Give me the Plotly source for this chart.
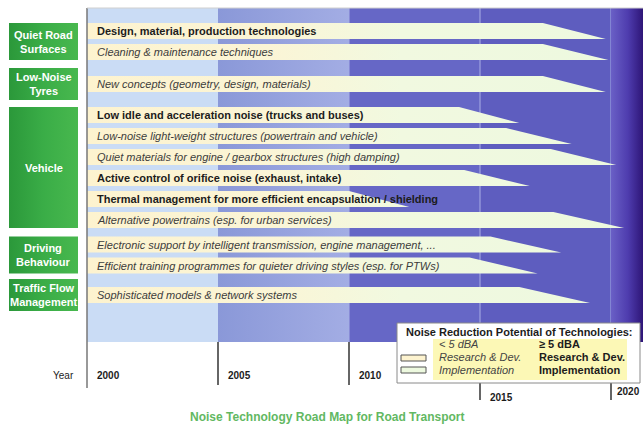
import plotly.graph_objects as go

# groups shown in the green boxes on the left
groups = ['Quiet Road<br>Surfaces', 'Low-Noise<br>Tyres', 'Vehicle',
          'Driving<br>Behaviour', 'Traffic Flow<br>Management']

techs = [
    'Design, material, production technologies',
    'Cleaning & maintenance techniques',
    'New concepts (geometry, design, materials)',
    'Low idle and acceleration noise (trucks and buses)',
    'Low-noise light-weight structures (powertrain and vehicle)',
    'Quiet materials for engine / gearbox structures (high damping)',
    'Active control of orifice noise (exhaust, intake)',
    'Thermal management for more efficient encapsulation / shielding',
    'Alternative powertrains (esp. for urban services)',
    'Electronic support by intelligent transmission, engine management, ...',
    'Efficient training programmes for quieter driving styles (esp. for PTWs)',
    'Sophisticated models & network systems',
]
tech_group = [0, 0, 1, 2, 2, 2, 2, 2, 2, 3, 3, 4]
# True = noise reduction >= 5 dBA (bold), False = < 5 dBA (italic)
big_reduction = [True, False, False, True, False, False, True, True, False, False, False, False]

start_year = [2000] * 12
flat_end = [2017.4, 2017.4, 2017.4, 2014.2, 2016.0, 2017.7,
            2014.4, 2010.0, 2017.8, 2015.4, 2014.6, 2016.5]
tip_year = [2019.8, 2019.9, 2019.8, 2016.5, 2018.5, 2020.2,
            2016.9, 2012.3, 2020.5, 2018.1, 2017.2, 2019.2]

years = [2000, 2005, 2010, 2015, 2020]

# layout in pixels (y runs top->bottom)
W, H = 643, 426
X0, PX_YEAR = 87, 26.2
row_top, row_step, bar_h = 31, 21, 16
group_gap = [0, 11, 10, 3.5, 8.5]
chart_top, chart_bottom = 8, 342
FONT = 'Liberation Sans, Arial'

def px_to_year(px):
    return 2000 + (px - X0) / PX_YEAR

row_y = []
y = row_top
for i, g in enumerate(tech_group):
    if i > 0:
        y += row_step
        if g != tech_group[i - 1]:
            y += group_gap[g]
    row_y.append(y)

fig = go.Figure()
shapes = []
annots = []

# background bands
band_cols = ['#cadcf5', '#8f9cdb', '#6667c6', '#5e5dbf']
for i in range(4):
    shapes.append(dict(type='rect', layer='below', xref='x', yref='y',
                       x0=years[i], x1=years[i + 1], y0=chart_top, y1=chart_bottom,
                       fillcolor=band_cols[i], line_width=0))
# lighter strip towards 2010 in the 2005 band
fig.add_trace(go.Scatter(
    x=[2005, 2010, 2010, 2005, 2005], y=[chart_top, chart_top, chart_bottom, chart_bottom, chart_top],
    fill='toself', mode='lines', line=dict(width=0), hoverinfo='skip', showlegend=False,
    fillgradient=dict(type='horizontal', start=2005, stop=2010,
                      colorscale=[[0, '#8a98d8'], [1, '#a3ade4']])))
# 2020+ dark gradient
x_end = px_to_year(W + 2)
fig.add_trace(go.Scatter(
    x=[2020, x_end, x_end, 2020, 2020], y=[chart_top, chart_top, chart_bottom, chart_bottom, chart_top],
    fill='toself', mode='lines', line=dict(width=0), hoverinfo='skip', showlegend=False,
    fillgradient=dict(type='horizontal', start=2020, stop=x_end,
                      colorscale=[[0, '#6a60c6'], [0.5, '#4e3cae'], [1, '#2a1070']])))
for yr in [2010, 2015, 2020]:
    shapes.append(dict(type='line', layer='below', xref='x', yref='y', x0=yr, x1=yr,
                       y0=chart_top, y1=chart_bottom, line=dict(color='#a9afe6', width=1)))

# technology bars
for i, t in enumerate(techs):
    yt, yb = row_y[i] - bar_h / 2, row_y[i] + bar_h / 2
    fig.add_trace(go.Scatter(
        x=[start_year[i], flat_end[i], tip_year[i], start_year[i], start_year[i]],
        y=[yt, yt, yb, yb, yt],
        fill='toself', mode='lines', line=dict(width=0), hoverinfo='skip', showlegend=False,
        fillgradient=dict(type='horizontal', start=2000, stop=2020,
                          colorscale=[[0, '#fdf3cf'], [0.35, '#fbf5d6'], [0.6, '#f1f9e0'], [1, '#edf9df']])))
    annots.append(dict(
        x=px_to_year(95), y=row_y[i], xref='x', yref='y', xanchor='left', yanchor='middle',
        text=('<b>%s</b>' % t) if big_reduction[i] else ('<i>%s</i>' % t), showarrow=False,
        font=dict(size=11, color='#1c1c1c' if big_reduction[i] else '#3c3c3c', family=FONT)))

# green group boxes
for g, name in enumerate(groups):
    ys = [row_y[i] for i in range(len(techs)) if tech_group[i] == g]
    top, bot = min(ys) - bar_h / 2, max(ys) + bar_h / 2
    if bot - top < 32:
        mid = (top + bot) / 2
        top, bot = mid - 16, mid + 16
    x_l, x_r = px_to_year(9), px_to_year(78)
    fig.add_trace(go.Scatter(
        x=[x_l, x_r, x_r, x_l, x_l], y=[top, top, bot, bot, top],
        fill='toself', mode='lines', line=dict(width=0), hoverinfo='skip', showlegend=False,
        fillgradient=dict(type='horizontal', start=x_l, stop=x_r,
                          colorscale=[[0, '#2b983a'], [0.5, '#3aad47'], [1, '#48b84e']])))
    annots.append(dict(x=(x_l + x_r) / 2, y=(top + bot) / 2, xref='x', yref='y',
                       text='<b>%s</b>' % name, showarrow=False,
                       font=dict(size=11, color='white', family=FONT)))

# year axis
shapes.append(dict(type='line', xref='x', yref='y', x0=2000, x1=2000, y0=chart_top, y1=388,
                   line=dict(color='#777777', width=1.5)))
shapes.append(dict(type='line', xref='x', yref='y', x0=2000, x1=x_end, y0=chart_top, y1=chart_top,
                   line=dict(color='#cfcfcf', width=1)))
year_label_y = [375, 375, 375, 397, 391]
year_label_dx = [0.3, 0.3, 0.3, 0.3, 0.15]
for yr in years[1:]:
    shapes.append(dict(type='line', xref='x', yref='y', x0=yr, x1=yr, y0=chart_bottom,
                       y1=400 if yr >= 2015 else 385,
                       line=dict(color='#333333', width=1.5)))
for k, yr in enumerate(years):
    annots.append(dict(x=yr + year_label_dx[k], y=year_label_y[k], xref='x', yref='y', xanchor='left',
                       text='<b>%d</b>' % yr, showarrow=False,
                       font=dict(size=10, color='#1c1c1c', family=FONT)))
annots.append(dict(x=px_to_year(76), y=375, xref='x', yref='y', xanchor='right', text='Year',
                   showarrow=False, font=dict(size=10, color='#1c1c1c', family=FONT)))

# legend box
lx0, lx1 = px_to_year(397), px_to_year(640)
shapes.append(dict(type='rect', xref='x', yref='y', x0=lx0, x1=lx1, y0=323, y1=383,
                   fillcolor='white', line=dict(color='#8a8a8a', width=1)))
shapes.append(dict(type='rect', xref='x', yref='y', x0=px_to_year(433), x1=px_to_year(627), y0=339, y1=380,
                   fillcolor='#fcf8b6', line_width=0))
shapes.append(dict(type='rect', xref='x', yref='y', x0=px_to_year(401), x1=px_to_year(426), y0=355, y1=361,
                   fillcolor='#fdf3cf', line=dict(color='#555555', width=1)))
shapes.append(dict(type='rect', xref='x', yref='y', x0=px_to_year(401), x1=px_to_year(426), y0=367, y1=373,
                   fillcolor='#edf9df', line=dict(color='#555555', width=1)))
leg_font = dict(size=11, color='#1c1c1c', family=FONT)
annots.append(dict(x=px_to_year(404), y=332, xref='x', yref='y', xanchor='left', showarrow=False,
                   text='<b>Noise Reduction Potential of Technologies:</b>', font=leg_font))
for txt, yy in [('< 5 dBA', 344), ('Research & Dev.', 357), ('Implementation', 370)]:
    annots.append(dict(x=px_to_year(437), y=yy, xref='x', yref='y', xanchor='left', showarrow=False,
                       text='<i>%s</i>' % txt, font=dict(size=11, color='#444444', family=FONT)))
for txt, yy in [('≥ 5 dBA', 344), ('Research & Dev.', 357), ('Implementation', 370)]:
    annots.append(dict(x=px_to_year(537), y=yy, xref='x', yref='y', xanchor='left', showarrow=False,
                       text='<b>%s</b>' % txt, font=leg_font))

# caption
annots.append(dict(x=px_to_year(327), y=417, xref='x', yref='y', showarrow=False,
                   text='<b>Noise Technology Road Map for Road Transport</b>',
                   font=dict(size=12, color='#62b862', family='Liberation Sans Narrow, Arial Narrow, Liberation Sans')))

fig.update_layout(
    width=W, height=H,
    margin=dict(l=0, r=0, t=0, b=0),
    plot_bgcolor='white', paper_bgcolor='white',
    showlegend=False,
    xaxis=dict(range=[px_to_year(0), px_to_year(W)], visible=False, fixedrange=True),
    yaxis=dict(range=[H, 0], visible=False, fixedrange=True),
    shapes=shapes,
    annotations=annots,
)
# drop the page's default body margin so the figure fills the window
fig.write_html("out.html", config={'displayModeBar': False},
               post_script="document.body.style.margin='0';"
                           "document.documentElement.style.overflow='hidden';")
